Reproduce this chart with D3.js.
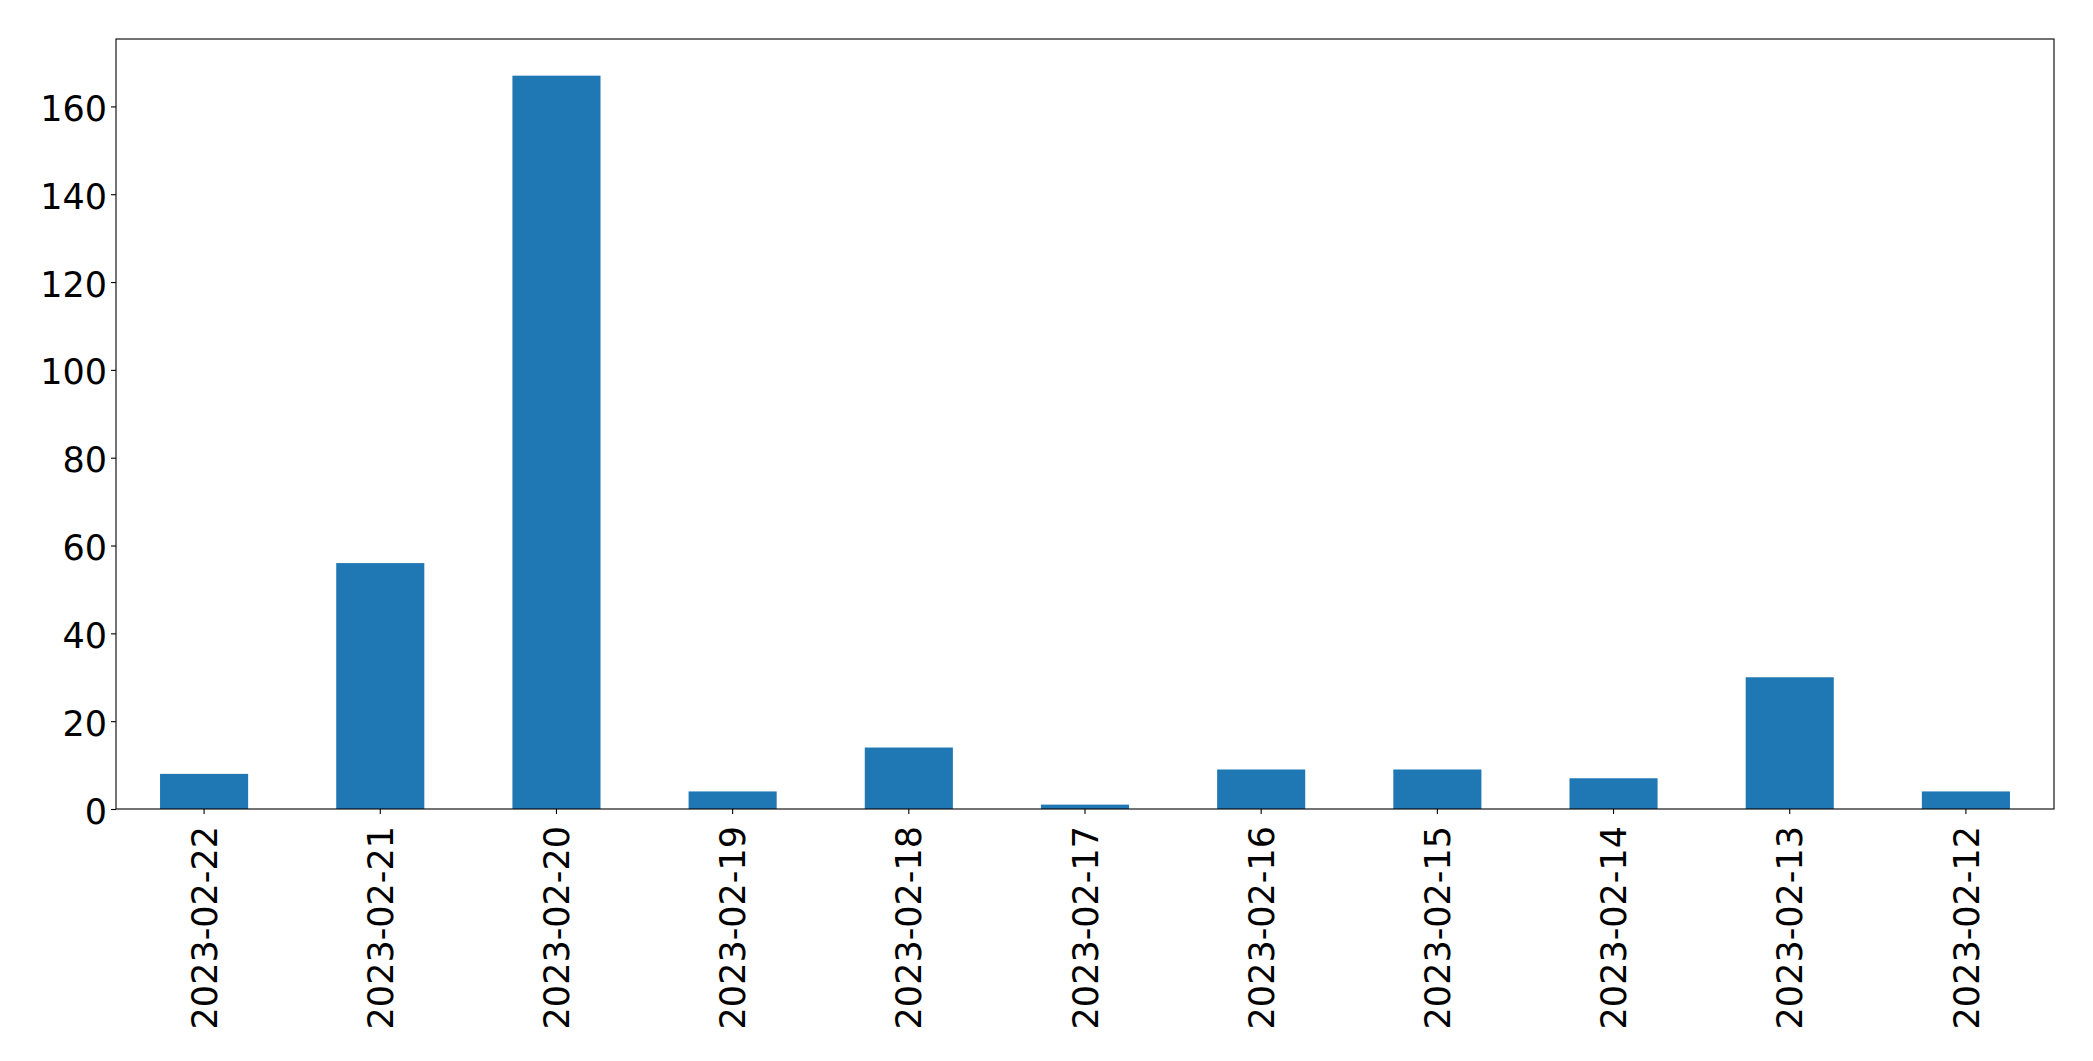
<!DOCTYPE html>
<html>
<head>
<meta charset="utf-8">
<script src="https://cdn.jsdelivr.net/npm/d3@7"></script>
<style>
  html, body { margin: 0; padding: 0; background: #fff; }
  svg { display: block; }
  text { font-family: "DejaVu Sans", sans-serif; fill: #000; }
</style>
</head>
<body>
<svg id="chart" width="2093" height="1061"></svg>
<script>
const categories = ["2023-02-22","2023-02-21","2023-02-20","2023-02-19","2023-02-18","2023-02-17","2023-02-16","2023-02-15","2023-02-14","2023-02-13","2023-02-12"];
const values = [8, 56, 167, 4, 14, 1, 9, 9, 7, 30, 4];
const yTicks = [0, 20, 40, 60, 80, 100, 120, 140, 160];

const W = 2093, H = 1061;
const m = { left: 116, right: W - 2054, top: 39, bottom: H - 809 };
const svg = d3.select("#chart");
const pw = W - m.left - m.right, ph = H - m.top - m.bottom;
const g = svg.append("g").attr("transform", `translate(${m.left},${m.top})`);

const x = d3.scaleBand().domain(categories).range([0, pw]).paddingInner(0.5).paddingOuter(0.25);
const y = d3.scaleLinear().domain([0, d3.max(values) * 1.05]).range([ph, 0]);

g.selectAll("rect.bar").data(values).join("rect")
  .attr("class", "bar")
  .attr("x", (d, i) => x(categories[i]))
  .attr("width", x.bandwidth())
  .attr("y", d => y(d))
  .attr("height", d => ph - y(d))
  .attr("fill", "#1f77b4");

// y axis
const ya = g.append("g").call(d3.axisLeft(y).tickValues(yTicks).tickSize(5).tickPadding(4).tickFormat(d3.format("d")));
ya.select(".domain").remove();
ya.selectAll(".tick line").attr("stroke", "#000").attr("stroke-width", 1.1);
ya.selectAll(".tick text").attr("font-size", 35).attr("font-family", "DejaVu Sans").attr("dy", "0.4em");

// x axis
const xa = g.append("g").attr("transform", `translate(0,${ph})`)
  .call(d3.axisBottom(x).tickSize(5).tickPadding(5));
xa.select(".domain").remove();
xa.selectAll(".tick line").attr("stroke", "#000").attr("stroke-width", 1.1);
xa.selectAll(".tick text")
  .attr("font-size", 35).attr("font-family", "DejaVu Sans")
  .attr("transform", "rotate(-90)")
  .attr("text-anchor", "end")
  .attr("x", -17).attr("y", 0).attr("dy", "0.36em");

// frame
g.append("rect").attr("x", 0).attr("y", 0).attr("width", pw).attr("height", ph)
  .attr("fill", "none").attr("stroke", "#000").attr("stroke-width", 1.1);
</script>
</body>
</html>
